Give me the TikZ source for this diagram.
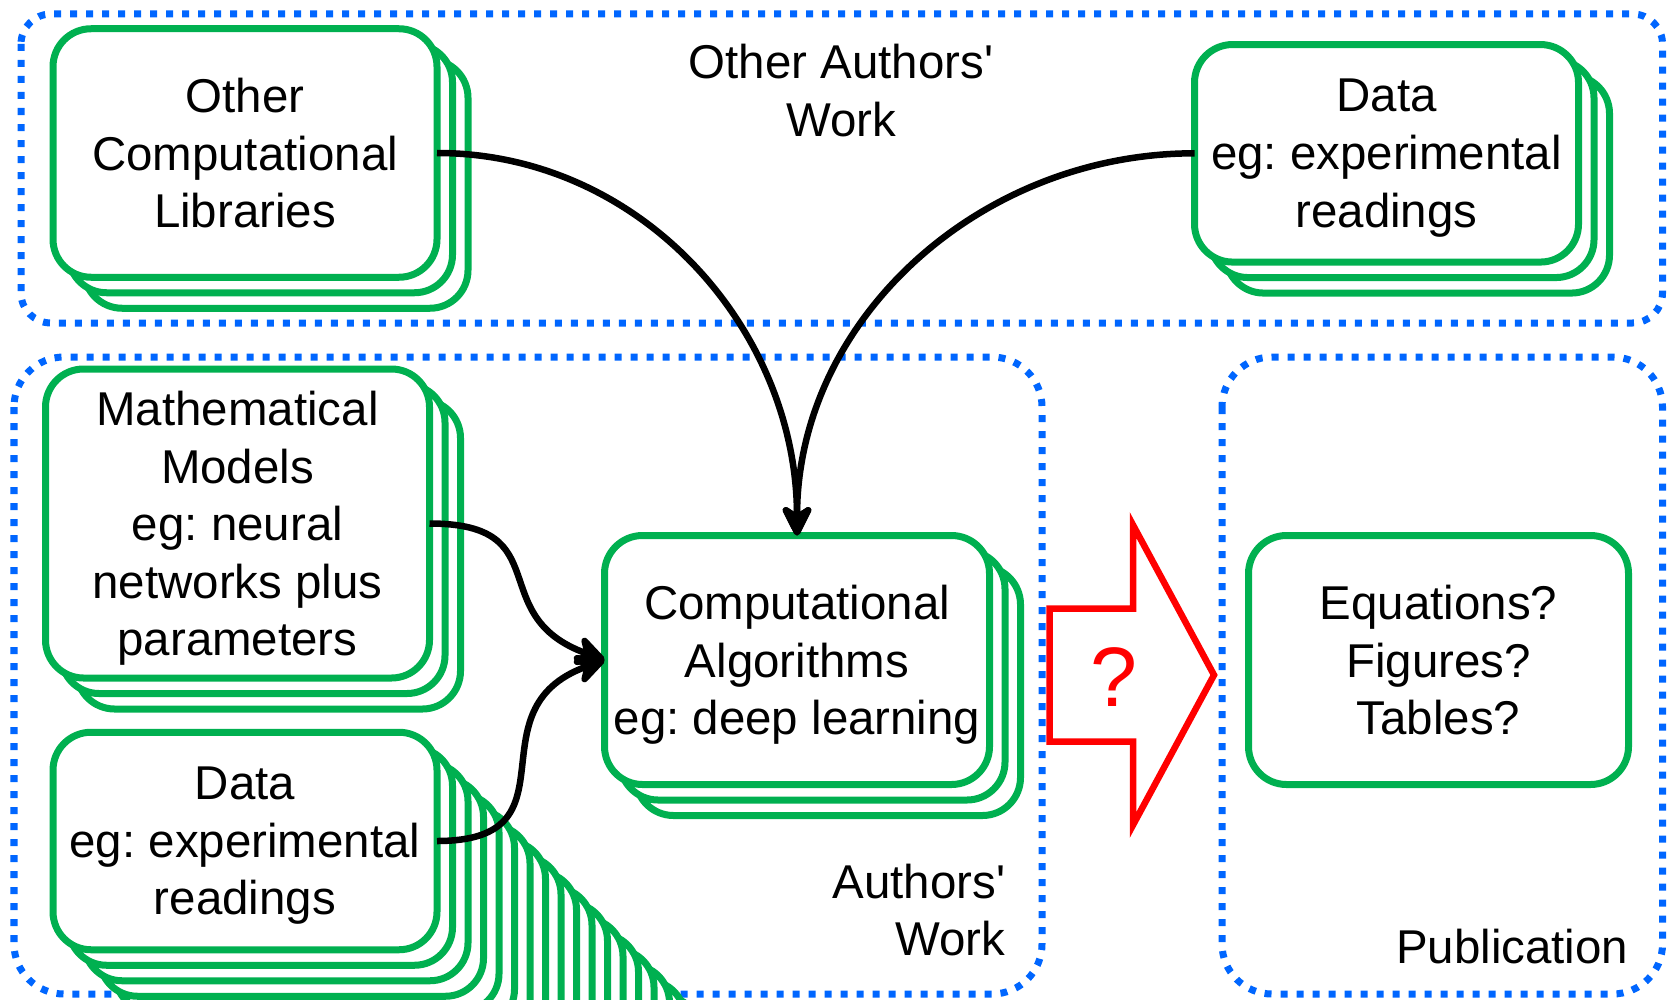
\documentclass[tikz,border=0pt]{standalone}
\usepackage{fontspec}
\setmainfont{Liberation Sans}
\usetikzlibrary{positioning, arrows.meta, calc, backgrounds}
\definecolor{cardgreen}{RGB}{0,176,80}
\definecolor{zoneblue}{RGB}{0,102,255}
\frenchspacing
\tikzset{
  card/.style={draw=cardgreen, line width=0.07cm, fill=white, rounded corners=0.38cm,
    minimum width=3.84cm, inner sep=0pt, outer sep=0pt, align=center, text depth=0pt,
    font=\fontsize{13.5}{16.4}\selectfont},
  cardcopy/.style={draw=cardgreen, line width=0.07cm, fill=white, rounded corners=0.38cm},
  zone/.style={draw=zoneblue, line width=0.07cm, dash pattern=on 0.07cm off 0.09cm, rounded corners=#1},
  zone/.default=0.5cm,
  flow/.style={-{Stealth[length=0.38cm, width=0.38cm, round]}, line width=0.065cm},
  zonetext/.style={align=center, inner sep=0pt, font=\fontsize{13.5}{16.4}\selectfont}
}

\begin{document}
\begin{tikzpicture}
    \useasboundingbox (0,0) rectangle (16.69,-9.99);
    \begin{scope}[on background layer]
      \draw[zone=0.3cm] (0.21,-0.14) rectangle (16.625,-3.23);
      \draw[zone] (0.14,-3.57) rectangle (10.42,-9.94);
      \draw[zone] (12.22,-3.57) rectangle (16.625,-9.94);
    \end{scope}
    \node[card, minimum height=2.485cm] (ocl) at (2.45,-1.53) {Other\\Computational\\Libraries};
    \node[card, minimum height=2.175cm] (dtr) at (13.865,-1.533) {Data\\eg: experimental\\readings};
    \node[card, minimum height=3.09cm] (mm) at (2.375,-5.235) {Mathematical\\Models\\eg: neural\\networks plus\\parameters};
    \node[card, minimum height=2.175cm] (dbl) at (2.45,-8.41) {Data\\eg: experimental\\readings};
    \node[card, minimum width=3.85cm, minimum height=2.49cm] (ca) at (7.97,-6.60) {Computational\\Algorithms\\eg: deep learning};
    \node[card, minimum width=3.80cm, minimum height=2.49cm] (eq) at (14.385,-6.60) {Equations?\\Figures?\\Tables?};
    \begin{scope}[on background layer]
      \clip (0,0) rectangle (16.69,-9.99);
      \foreach \n in {ocl,dtr,mm,ca}
        \foreach \k in {2,1}
          \draw[cardcopy] ($(\n.south west)+(\k*0.155,-\k*0.155)$) rectangle ($(\n.north east)+(\k*0.155,-\k*0.155)$);
      \foreach \k in {18,...,1}
        \draw[cardcopy] ($(dbl.south west)+(\k*0.155,-\k*0.155)$) rectangle ($(dbl.north east)+(\k*0.155,-\k*0.155)$);
    \end{scope}
    \node[zonetext] (oaw) at (8.41,-0.905) {Other Authors\textquotesingle\\Work};
    \node[zonetext, align=right, anchor=east] (aw) at (10.06,-9.10) {Authors\textquotesingle\\Work};
    \node[zonetext, anchor=east] (pub) at (16.29,-9.47) {Publication};
    \node[text=red, font=\fontsize{24}{24}\selectfont] (qm) at (11.14,-6.77) {?};
    \draw[red, line width=0.065cm] (10.495,-6.085) -- (11.33,-6.085) -- (11.33,-5.25) -- (12.14,-6.75)
      -- (11.33,-8.25) -- (11.33,-7.415) -- (10.495,-7.415) -- cycle;
    \draw[flow] (ocl.east) to[out=0, in=90] (ca.north);
    \draw[flow] (dtr.west) to[out=180, in=90] (ca.north);
    \draw[flow] (mm.east) to[out=0, in=160, looseness=1.5] (ca.west);
    \draw[flow] (dbl.east) to[out=0, in=200, looseness=1.5] (ca.west);
\end{tikzpicture}
\end{document}
